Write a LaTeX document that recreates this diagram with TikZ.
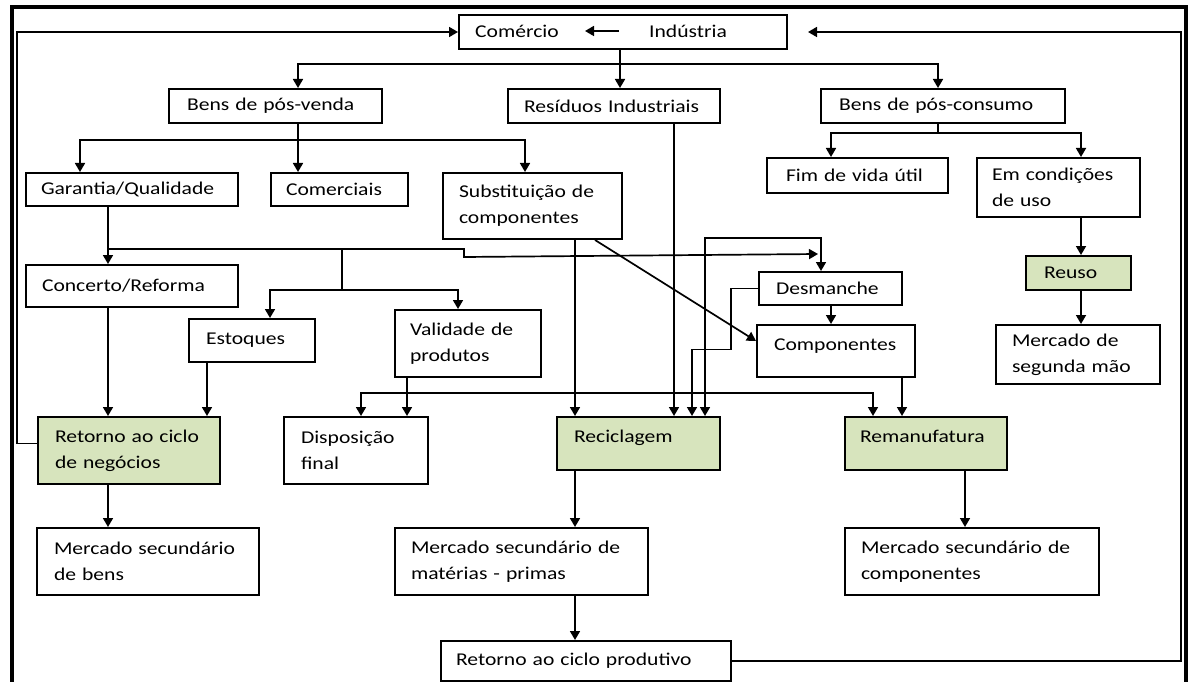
\documentclass[tikz,border=0pt]{standalone}
\usepackage{fontspec}
\setmainfont{Carlito}[FakeStretch=1.2]
\usetikzlibrary{arrows.meta,positioning}
\definecolor{boxgreen}{RGB}{215,228,189}

\begin{document}
\begin{tikzpicture}[x=1pt,y=-1pt,
    font=\fontsize{18}{26}\selectfont,
    link/.style={line width=1.7pt,-{Triangle[width=10pt,length=9pt]}},
    dlink/.style={line width=1.7pt,{Triangle[width=10pt,length=9pt]}-{Triangle[width=10pt,length=9pt]}},
    plain/.style={line width=1.7pt}]
  \useasboundingbox (0,0) rectangle (1189,682);
  % outer frame
  \draw[line width=4pt] (11.5,682) -- (11.5,7) -- (1186,7) -- (1186,682);

  \begin{scope}[every node/.style={draw,line width=2pt,anchor=north west,
      align=left,inner ysep=0pt}]
    \node (top) [minimum width=328pt,minimum height=34pt] at (458,14) {};
    \node (posvenda) [text width=177pt,inner xsep=18pt,minimum height=34pt] at (168,88) {Bens de pós-venda};
    \node (residuos) [text width=180pt,inner xsep=16pt,minimum height=34pt] at (507,88) {Resíduos Industriais};
    \node (posconsumo) [text width=208pt,inner xsep=18pt,minimum height=34pt] at (820,88) {Bens de pós-consumo};
    \node (garantia) [text width=182pt,inner xsep=15pt,minimum height=33pt] at (25,172) {Garantia/Qualidade};
    \node (comerciais) [text width=107pt,inner xsep=15pt,minimum height=33pt] at (270,172) {Comerciais};
    \node (substituicao) [text width=147pt,inner xsep=16pt,minimum height=66pt] at (442,172) {Substituição de\\componentes};
    \node (fimvida) [text width=143pt,inner xsep=19pt,minimum height=35pt] at (766,157) {Fim de vida útil};
    \node (condicoes) [text width=133pt,inner xsep=15pt,minimum height=59pt] at (976,157) {Em condições\\de uso};
    \node (concerto) [text width=180pt,inner xsep=16pt,minimum height=42pt] at (25,264) {Concerto/Reforma};
    \node (estoques) [text width=92pt,inner xsep=17pt,minimum height=43pt] at (188,318) {Estoques};
    \node (validade) [text width=116pt,inner xsep=15pt,minimum height=67pt] at (394,309) {Validade de\\produtos};
    \node (desmanche) [text width=109pt,inner xsep=17pt,minimum height=33pt] at (758,271) {Desmanche};
    \node (componentes) [text width=124pt,inner xsep=17pt,minimum height=52pt,text height=13pt,text depth=15pt] at (756,324) {Componentes};
    \node (reuso) [fill=boxgreen,text width=69pt,inner xsep=18pt,minimum height=34pt] at (1025,255) {Reuso};
    \node (segunda) [text width=132pt,inner xsep=16pt,minimum height=59pt] at (995,324) {Mercado de\\segunda mão};
    \node (retnegocios) [fill=boxgreen,text width=148pt,inner xsep=17pt,minimum height=67pt] at (37,416) {Retorno ao ciclo\\de negócios};
    \node (disposicao) [text width=110pt,inner xsep=17pt,minimum height=67pt] at (283,416) {Disposição\\final};
    \node (reciclagem) [fill=boxgreen,text width=129pt,inner xsep=17pt,minimum height=53pt,text height=13pt,text depth=15pt] at (556,416) {Reciclagem};
    \node (remanufatura) [fill=boxgreen,text width=132pt,inner xsep=15pt,minimum height=53pt,text height=13pt,text depth=15pt] at (844,416) {Remanufatura};
    \node (mercbens) [text width=188pt,inner xsep=17pt,minimum height=67pt] at (36,527) {Mercado secundário\\de bens};
    \node (mercmaterias) [text width=221pt,inner xsep=16pt,minimum height=67pt] at (394,527) {Mercado secundário de\\matérias - primas};
    \node (merccomp) [text width=222pt,inner xsep=16pt,minimum height=67pt] at (844,527) {Mercado secundário de\\componentes};
    \node (retprodutivo) [text width=260pt,inner xsep=15pt,minimum height=40pt] at (440,640) {Retorno ao ciclo produtivo};
  \end{scope}

  \node (com) [anchor=west,inner sep=0pt] at (475,31) {Comércio};
  \node (ind) [anchor=west,inner sep=0pt] at (649,31) {Indústria};
  \draw[link,shorten <=30pt,shorten >=26pt] (ind.west) -- (com.east);

  % from Industria
  \draw[plain] ([xshift=162pt]top.south west) -- ++(0,14) coordinate (split);
  \draw[link] (split) -| ([xshift=130pt]posvenda.north west);
  \draw[link] (split) -- (split |- residuos.north);
  \draw[link] (split) -| ([xshift=118pt]posconsumo.north west);

  % pos-venda
  \draw[plain] ([xshift=130pt]posvenda.south west) -- ++(0,16) coordinate (pv);
  \draw[link] (pv) -| ([xshift=55pt]garantia.north west);
  \draw[link] (pv) -- (pv |- comerciais.north);
  \draw[link] (pv) -| ([xshift=83pt]substituicao.north west);

  % pos-consumo
  \draw[plain] ([xshift=118pt]posconsumo.south west) -- ++(0,9) coordinate (pc);
  \draw[link] (pc) -| ([xshift=65pt]fimvida.north west);
  \draw[link] (pc) -| ([xshift=105pt]condicoes.north west);
  \draw[link] ([xshift=105pt]condicoes.south west) -- ([xshift=56pt]reuso.north west);
  \draw[link] ([xshift=56pt]reuso.south west) -- ([xshift=86pt]segunda.north west);

  % garantia
  \draw[plain] ([xshift=83pt]garantia.south west) -- ++(0,42) coordinate (ga);
  \draw[link] (ga) -- (ga |- concerto.north);
  \draw[link] (ga) -- ++(356,0) -- ++(0,8) -- ([xshift=60pt,yshift=17pt]desmanche.north west);
  \draw[plain] ([xshift=234pt]ga) -- ++(0,41) coordinate (ev);
  \draw[link] (ev) -| ([xshift=82pt]estoques.north west);
  \draw[link] (ev) -| ([xshift=64pt]validade.north west);

  \draw[link] ([xshift=83pt]concerto.south west) -- ([xshift=71pt]retnegocios.north west);
  \draw[link] ([xshift=19pt]estoques.south west) -- ([xshift=170pt]retnegocios.north west);
  \draw[link] ([xshift=13pt]validade.south west) -- ([xshift=124pt]disposicao.north west);
  \draw[dlink] ([xshift=78pt]disposicao.north west) -- ++(0,-23) -| ([xshift=29pt]remanufatura.north west);

  % substituicao, residuos, desmanche
  \draw[link] ([xshift=133pt]substituicao.south west) -- ([xshift=19pt]reciclagem.north west);
  \draw[link] ([xshift=153pt]substituicao.south west) -- ([yshift=10pt]componentes.west);
  \draw[link] ([xshift=167pt]residuos.south west) -- ([xshift=118pt]reciclagem.north west);
  \draw[link] (desmanche.west) -- ++(-27,0) -- ++(0,61) -- ++(-39,0) -- ([xshift=136pt]reciclagem.north west);
  \draw[dlink] ([xshift=149pt]reciclagem.north west) |- ([xshift=63pt,yshift=33pt]desmanche.north west) -- ([xshift=63pt]desmanche.north west);
  \draw[link] ([xshift=73pt]desmanche.south west) -- ([xshift=75pt]componentes.north west);
  \draw[link] ([xshift=146pt]componentes.south west) -- ([xshift=58pt]remanufatura.north west);

  % mercados
  \draw[link] ([xshift=71pt]retnegocios.south west) -- ([xshift=72pt]mercbens.north west);
  \draw[link] ([xshift=19pt]reciclagem.south west) -- ([xshift=181pt]mercmaterias.north west);
  \draw[link] ([xshift=121pt]remanufatura.south west) -- ([xshift=121pt]merccomp.north west);
  \draw[link] ([xshift=181pt]mercmaterias.south west) -- ([xshift=135pt]retprodutivo.north west);

  % return loops
  \draw[link] (retprodutivo.east) -| ([xshift=393pt]top.east) -- ([xshift=20pt]top.east);
  \draw[link] ([yshift=7pt]retnegocios.west) -- ++(-20,0) |- (top.west);
\end{tikzpicture}
\end{document}
